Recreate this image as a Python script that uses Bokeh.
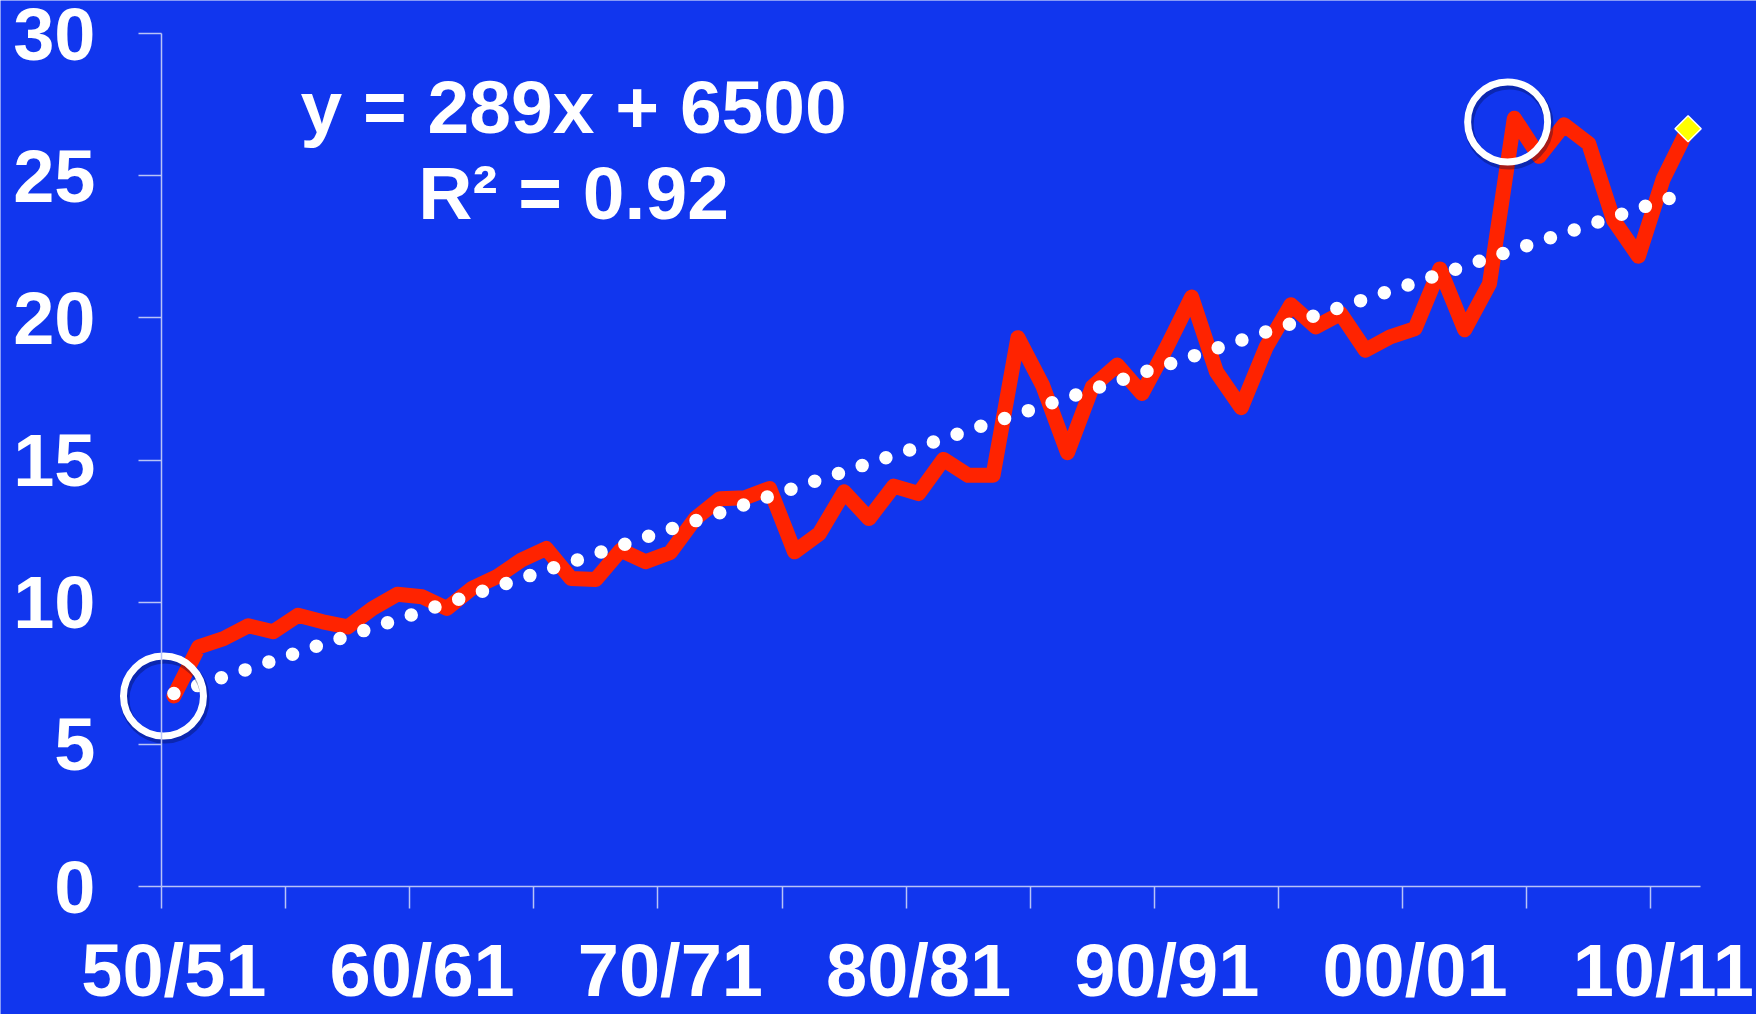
import math
from bokeh.plotting import figure
from bokeh.models import FixedTicker, Label, Range1d, CustomJSTickFormatter
from bokeh.embed import file_html
from bokeh.resources import INLINE

# ---- data -------------------------------------------------------------
seasons = [f"{y % 100:02d}/{(y + 1) % 100:02d}" for y in range(1950, 2012)]
values = [6.70, 8.43, 8.72, 9.17, 8.96, 9.54, 9.31, 9.13, 9.78, 10.28,
          10.19, 9.78, 10.48, 10.89, 11.48, 11.89, 10.83, 10.80, 11.83, 11.42,
          11.75, 12.94, 13.64, 13.67, 14.00, 11.77, 12.41, 13.88, 12.94, 14.08,
          13.82, 15.02, 14.46, 14.46, 19.30, 17.62, 15.26, 17.57, 18.34, 17.34,
          18.97, 20.73, 18.10, 16.84, 18.97, 20.46, 19.68, 20.15, 18.86, 19.33,
          19.62, 21.72, 19.58, 21.20, 27.02, 25.68, 26.79, 26.12, 23.43, 22.17,
          24.89, 26.65]
trend_slope = 289
trend_intercept = 6500
trend_unit = 1000
r_squared = 0.92
y_ticks = [0, 5, 10, 15, 20, 25, 30]
x_tick_every = 5
x_label_every = 10

# ---- styling / layout -------------------------------------------------
BG = "#1136EE"
RED = "#FF2300"
AXIS = "#B8C3F7"
FONT = "Liberation Sans"
W, H = 1756, 1014
AX_L, AX_R, AX_T, AX_B = 161, 56, 33, 128   # axes box inside the page
Y_MAX = 30

n = len(values)
xs = [i + 0.5 for i in range(n)]
px_x = (W - AX_L - AX_R) / n          # pixels per category
px_y = (H - AX_T - AX_B) / Y_MAX      # pixels per unit

# the frame fills the whole page; both axes are placed at fixed locations
p = figure(width=W, height=H,
           x_range=Range1d(-AX_L / px_x, n + AX_R / px_x),
           y_range=Range1d(-AX_B / px_y, Y_MAX + AX_T / px_y),
           output_backend="svg", toolbar_location=None,
           min_border_left=0, min_border_right=0,
           min_border_top=0, min_border_bottom=0)
p.background_fill_color = BG
p.border_fill_color = BG
p.outline_line_color = None
p.grid.visible = False

# x axis: labels at category centres, tick marks between categories
xa = p.xaxis[0]
xa.fixed_location = 0
xa.bounds = (0, n)
xa.ticker = FixedTicker(ticks=[i + 0.5 for i in range(0, n, x_label_every)],
                        minor_ticks=list(range(0, n + 1, x_tick_every)))
xa.formatter = CustomJSTickFormatter(args=dict(labels=seasons),
                                     code="return labels[Math.round(tick - 0.5)] || '';")
xa.major_tick_out = 0
xa.major_tick_in = 0
xa.minor_tick_out = 22
xa.minor_tick_in = 0
xa.minor_tick_line_color = AXIS
xa.minor_tick_line_width = 1.5
xa.axis_line_color = AXIS
xa.axis_line_width = 1.5
xa.major_label_standoff = 20
xa.major_label_text_font = FONT
xa.major_label_text_font_style = "bold"
xa.major_label_text_font_size = "74px"
xa.major_label_text_color = "white"

ya = p.yaxis[0]
ya.fixed_location = 0
ya.bounds = (0, Y_MAX)
ya.ticker = FixedTicker(ticks=y_ticks, minor_ticks=[])
ya.major_tick_out = 23
ya.major_tick_in = 0
ya.major_tick_line_color = AXIS
ya.major_tick_line_width = 1.5
ya.axis_line_color = AXIS
ya.axis_line_width = 1.5
ya.major_label_standoff = 43
ya.major_label_text_font = FONT
ya.major_label_text_font_style = "bold"
ya.major_label_text_font_size = "74px"
ya.major_label_text_color = "white"

# ---- data line ----------------------------------------------------------
p.line(xs, values, line_color=RED, line_width=15,
       line_join="round", line_cap="round")

# ---- linear trend (from the equation shown) ----------------------------
tx = [xs[0], xs[-1]]
ty = [(trend_slope * 1 + trend_intercept) / trend_unit,
      (trend_slope * n + trend_intercept) / trend_unit]
p.line(tx, ty, line_color="white", line_width=13.5,
       line_dash="0 25", line_cap="round")

# ---- latest value marker ---------------------------------------------
p.scatter([xs[-1]], [values[-1]], marker="square", angle=math.pi / 4,
          size=18.5, fill_color="#FFFF00", line_color="white", line_width=1.5)

# ---- highlight rings: first value and the peak ------------------------
peak = max(range(n), key=lambda i: values[i])
ring_x = [xs[0] - 0.42, xs[peak] - 0.27]
ring_y = [values[0], values[peak] - 0.13]
p.scatter([v + 1.5 / px_x for v in ring_x], [v - 3.0 / px_y for v in ring_y],
          marker="circle", size=80, fill_color=None,
          line_color="#000B40", line_alpha=0.35, line_width=9)
p.scatter(ring_x, ring_y, marker="circle", size=80, fill_color=None,
          line_color="white", line_width=7)

# ---- equation text -----------------------------------------------------
eq_lines = [f"y = {trend_slope}x + {trend_intercept}", f"R\u00b2 = {r_squared}"]
for k, txt in enumerate(eq_lines):
    p.add_layout(Label(x=16.6, y=27.4 - 3.01 * k, text=txt,
                       text_align="center", text_baseline="alphabetic",
                       text_font=FONT, text_font_style="bold",
                       text_font_size="75px", text_color="white"))

open("out.html", "w").write(file_html(p, INLINE))
